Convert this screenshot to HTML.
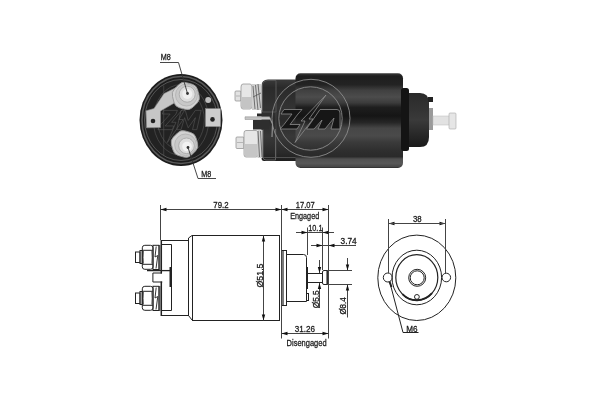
<!DOCTYPE html>
<html><head><meta charset="utf-8">
<style>
html,body{margin:0;padding:0;background:#fff;width:600px;height:400px;overflow:hidden}
svg{display:block;will-change:transform}
text{font-family:"Liberation Sans",sans-serif;fill:#1a1a1a;stroke:#1a1a1a;stroke-width:0.3}
</style></head><body>
<svg width="600" height="400" viewBox="0 0 600 400">
<defs>
  <linearGradient id="bodyG" x1="0" y1="0" x2="0" y2="1">
    <stop offset="0" stop-color="#3a3a3a"/>
    <stop offset="0.03" stop-color="#1e1e1e"/>
    <stop offset="0.12" stop-color="#232323"/>
    <stop offset="0.18" stop-color="#404040"/>
    <stop offset="0.25" stop-color="#4c4c4c"/>
    <stop offset="0.31" stop-color="#3c3c3c"/>
    <stop offset="0.36" stop-color="#1e1e1e"/>
    <stop offset="0.45" stop-color="#151515"/>
    <stop offset="0.52" stop-color="#262626"/>
    <stop offset="0.58" stop-color="#464646"/>
    <stop offset="0.66" stop-color="#4a4a4a"/>
    <stop offset="0.73" stop-color="#3a3a3a"/>
    <stop offset="0.82" stop-color="#2e2e2e"/>
    <stop offset="0.88" stop-color="#2a2a2a"/>
    <stop offset="0.905" stop-color="#505050"/>
    <stop offset="0.95" stop-color="#585858"/>
    <stop offset="0.985" stop-color="#484848"/>
    <stop offset="1" stop-color="#2a2a2a"/>
  </linearGradient>
  <linearGradient id="frontG" x1="0" y1="0" x2="0" y2="1">
    <stop offset="0" stop-color="#2a2a2a"/>
    <stop offset="0.3" stop-color="#333"/>
    <stop offset="0.5" stop-color="#3a3a3a"/>
    <stop offset="0.8" stop-color="#262626"/>
    <stop offset="1" stop-color="#1a1a1a"/>
  </linearGradient>
  <linearGradient id="capG" x1="0" y1="0" x2="0" y2="1">
    <stop offset="0" stop-color="#3a3a3a"/>
    <stop offset="0.1" stop-color="#2a2a2a"/>
    <stop offset="0.35" stop-color="#333"/>
    <stop offset="0.5" stop-color="#2a2a2a"/>
    <stop offset="0.7" stop-color="#383838"/>
    <stop offset="0.9" stop-color="#2a2a2a"/>
    <stop offset="1" stop-color="#1e1e1e"/>
  </linearGradient>
  <radialGradient id="endG" cx="0.5" cy="0.5" r="0.5">
    <stop offset="0" stop-color="#3a3a3a"/>
    <stop offset="0.8" stop-color="#2a2a2a"/>
    <stop offset="0.92" stop-color="#555"/>
    <stop offset="1" stop-color="#1a1a1a"/>
  </radialGradient>
</defs>

<!-- ============ END VIEW PHOTO ============ -->
<g id="endview">
  <ellipse cx="181" cy="120" rx="41.5" ry="46" fill="#1c1c1c"/>
  <ellipse cx="181" cy="120" rx="39" ry="43.5" fill="none" stroke="#5a5a5a" stroke-width="1.6"/>
  <ellipse cx="181" cy="120" rx="36.5" ry="40.5" fill="#222" stroke="#7a7a7a" stroke-width="0.6"/>
  <!-- watermark lines -->
  <g fill="none" stroke="#5a5a5a" stroke-width="0.7" transform="translate(181,120) scale(0.72,0.92) translate(-312,-119.5)">
    <circle cx="312" cy="119.5" r="38.5"/>
    <circle cx="312" cy="119.5" r="32.4"/>
    <path d="M288,109 L307,109 L305,113 L290,126 L302,126 L300,130 L280,130 L282,126 L297,113 L286,113 Z"/>
    <path d="M306,130 L312,109 L318,109 L322,120 L332,109 L340,109 L334,130 L328,130 L332,117 L322,128 L317,117 L312,130 Z"/>
    <path d="M328,95 L309,119 L315,119 L293,144 L305,122 L299,122 Z"/>
    <line x1="288" y1="82" x2="288" y2="158"/>
  </g>
  <!-- left bracket -->
  <path d="M176,87.6 L164,93.6 L154,108.5 L146,110.8 L146.5,127.8 L160.5,127.5 L160.5,111 L174,103.2 Z" fill="#c6c6c6" stroke="#8a8a8a" stroke-width="0.6"/>
  <circle cx="153" cy="121" r="2.3" fill="#222"/>
  <!-- right tab -->
  <rect x="205.5" y="108.6" width="15" height="18" fill="#cdcdcd" stroke="#8a8a8a" stroke-width="0.5"/>
  <circle cx="212.5" cy="119.4" r="2.3" fill="#222"/>
  <circle cx="208.2" cy="100" r="3" fill="#bdbdbd"/>
  <!-- upper terminal -->
  <path d="M199.1,95.5 Q200.3,99.9 197.1,103.1 L192.9,107.3 Q189.7,110.5 185.3,109.3 L179.5,107.8 Q175.2,106.6 174.0,102.3 L172.5,96.5 Q171.3,92.1 174.5,88.9 L178.7,84.7 Q181.9,81.5 186.3,82.7 L192.1,84.2 Q196.4,85.4 197.6,89.7 Z" fill="#d2d2d2" stroke="#9a9a9a" stroke-width="0.9"/>
  <circle cx="186.5" cy="95" r="11" fill="#c8c8c8" stroke="#a8a8a8" stroke-width="0.6"/>
  <circle cx="187.2" cy="94.2" r="8" fill="#dedede" stroke="#9e9e9e" stroke-width="0.7"/>
  <circle cx="187.3" cy="94" r="5" fill="#efefef"/>
  <circle cx="187.5" cy="93.5" r="1.4" fill="#333"/>
  <!-- lower terminal -->
  <path d="M197.6,143.5 Q198.7,147.8 195.6,150.9 L191.4,155.1 Q188.3,158.2 184.0,157.1 L178.4,155.5 Q174.1,154.4 173.0,150.1 L171.4,144.5 Q170.3,140.2 173.4,137.1 L177.6,132.9 Q180.7,129.8 185.0,130.9 L190.6,132.5 Q194.9,133.6 196.0,137.9 Z" fill="#d2d2d2" stroke="#9a9a9a" stroke-width="0.9"/>
  <circle cx="185.5" cy="144.8" r="10.8" fill="#c8c8c8" stroke="#a8a8a8" stroke-width="0.6"/>
  <circle cx="186.5" cy="145.8" r="7.8" fill="#dedede" stroke="#9e9e9e" stroke-width="0.7"/>
  <circle cx="187" cy="146.5" r="4.8" fill="#f2f2f2"/>
  <circle cx="188" cy="147.5" r="1.4" fill="#333"/>
  <!-- leaders -->
  <polyline points="160,62.5 178.5,62.5 187.5,93.5" fill="none" stroke="#333" stroke-width="0.9"/>
  <polyline points="188,147.5 198,178.5 216,178.5" fill="none" stroke="#333" stroke-width="0.9"/>
  <text x="160.8" y="60" font-size="9.2" textLength="10" lengthAdjust="spacingAndGlyphs">M8</text>
  <text x="201.2" y="177" font-size="9.2" textLength="10" lengthAdjust="spacingAndGlyphs">M8</text>
</g>

<!-- ============ SIDE VIEW PHOTO ============ -->
<g id="sideview">
  <!-- cap -->
  <path d="M268,79.5 H298 V161 H264 Q261.5,161 261.5,158 V86 Q261.5,79.5 268,79.5 Z" fill="url(#capG)"/>
  <path d="M262.5,84 Q263,81 267,80.5 H276 V112 H262.5 Z" fill="none" stroke="#5a5a5a" stroke-width="0.8"/>
  <line x1="276" y1="82" x2="276" y2="158" stroke="#4a4a4a" stroke-width="0.8"/>
  <path d="M263,129 V157 Q263,160 266,160 H275.5 V129" fill="none" stroke="#666" stroke-width="0.9"/>
  <line x1="263" y1="157.5" x2="296" y2="157.5" stroke="#5a5a5a" stroke-width="0.8"/>
  <!-- upper bolt -->
  <rect x="235" y="91" width="6" height="10" rx="1" fill="#e2e2e2" stroke="#8a8a8a" stroke-width="0.7"/>
  <line x1="236" y1="96" x2="240" y2="96" stroke="#999" stroke-width="0.6"/>
  <path d="M243,84 H250 Q252,84 252,87 V106 Q252,109 250,109 H243 Q241,109 241,106 V87 Q241,84 243,84 Z" fill="#e6e6e6" stroke="#8a8a8a" stroke-width="0.7"/>
  <path d="M241.5,97 H251.5 V106 Q251.5,108.5 249.5,108.5 H243.5 Q241.5,108.5 241.5,106 Z" fill="#c4c4c4"/>
  <rect x="252" y="84" width="9.5" height="26" fill="#d0d0d0"/>
  <path d="M253,86 L255,109 M255.5,85 L258,110 M258,84 L260.5,108 M253,97 L261,93" stroke="#555" stroke-width="0.8" fill="none"/>
  <!-- lower bolt -->
  <rect x="236" y="137" width="8" height="11.5" rx="1" fill="#e2e2e2" stroke="#8a8a8a" stroke-width="0.7"/>
  <line x1="237" y1="142.5" x2="243" y2="142.5" stroke="#999" stroke-width="0.6"/>
  <path d="M246,130.5 H256 Q258,130.5 258,133 V154.5 Q258,157 256,157 H246 Q244,157 244,154.5 V133 Q244,130.5 246,130.5 Z" fill="#e6e6e6" stroke="#8a8a8a" stroke-width="0.7"/>
  <path d="M244.5,144 H257.5 V154.5 Q257.5,156.5 255.5,156.5 H246.5 Q244.5,156.5 244.5,154.5 Z" fill="#c6c6c6"/>
  <rect x="257.5" y="130" width="5" height="28" fill="#cfcfcf"/>
  <path d="M258,131 L259.5,157 M260.5,131 L262,157" stroke="#555" stroke-width="0.8" fill="none"/>
  <!-- bracket between -->
  <rect x="257" y="113.5" width="5" height="3" fill="#2a2a2a"/>
  <rect x="253" y="120" width="16" height="9.5" fill="#2e2e2e"/>
  <path d="M245,116.8 H269.5 L271,119.5 H245 Z" fill="#c4c4c4" stroke="#8a8a8a" stroke-width="0.5"/>
  <path d="M270.5,119.5 L272.5,124 L272,137" fill="none" stroke="#9a9a9a" stroke-width="1.1"/>
  <!-- main body -->
  <rect x="295.5" y="73.3" width="107.5" height="94.7" rx="5" fill="url(#bodyG)"/>
  <!-- front flange and cap -->
  <rect x="401" y="88" width="8" height="63" rx="2.5" fill="#141414"/>
  <path d="M409,93 L420,93 Q429,93 429,103 L429,137 Q429,147 420,147 L409,147 Z" fill="url(#frontG)"/>
  <rect x="428" y="97" width="5" height="5" fill="#222"/>
  <rect x="429" y="108" width="4" height="22" fill="#9a9a9a"/>
  <rect x="433" y="116" width="17" height="9" fill="#e2e2e2" stroke="#bbb" stroke-width="0.5"/>
  <rect x="449" y="113" width="7" height="16" rx="1" fill="#e6e6e6" stroke="#aaa" stroke-width="0.6"/>
  <!-- logo watermark -->
  <g fill="none" stroke="#8c8c8c" stroke-width="0.9">
    <circle cx="311" cy="118.3" r="39"/>
    <circle cx="310.5" cy="118.5" r="31.7"/>
    <path d="M284,109.5 H302 L298,114 L290,124.5 H300 L297,129 H280 L284,124.5 L292,114 H281 Z" fill="#161616" stroke-width="0.8"/>
    <path d="M306.5,129 L320,109.5 H337 Q340,109.5 340,113 V129 H331 L334,118 L325,129 H318 L322,120 L314,129 Z" fill="#161616" stroke-width="0.8"/>
    <path d="M326,95 L309,119 L313,119 L295,142.5 L305,121 L301,121 Z" stroke-width="0.8"/>
  </g>
</g>
</g>
</g>

<!-- ============ TECHNICAL DRAWING SIDE ============ -->
<g id="drawing" fill="none" stroke="#222" stroke-width="1">
  <!-- main cylinder -->
  <rect x="192.5" y="235.5" width="87" height="85"/>
  <!-- cap outline -->
  <path d="M161.5,240.5 H188.5 M188.5,316 V238 L192,235.5 M161.5,315.5 H188.5 L192,320"/>
  <!-- inner cap outline -->
  <path d="M161.5,244.5 H171.5 V310.5 H161.5"/>
  <line x1="170.5" y1="267" x2="170.5" y2="287" stroke-width="2"/>
  <!-- upper terminal -->
  <g id="term">
  <rect x="135.5" y="252" width="4.5" height="10.5"/>
  <rect x="140" y="250.5" width="2.2" height="13"/>
  <rect x="142.3" y="245.3" width="10.7" height="24" rx="2.5"/>
  <path d="M142.5,250.3 H152.8 M142.5,264.3 H152.8"/>
  <path d="M143.5,251 Q142.8,257.3 143.5,263.6 M151.8,251 Q152.5,257.3 151.8,263.6" stroke-width="0.7"/>
  <rect x="153" y="245.3" width="5.8" height="24.2"/>
  <path d="M156.2,246.5 L155,257 L157.8,255.5 L156,268.5" stroke-width="0.9"/>
  <line x1="159.8" y1="245" x2="159.8" y2="270" stroke-width="1"/>
  </g>
  <g transform="translate(0,41)">
  <rect x="135.5" y="252" width="4.5" height="10.5"/>
  <rect x="140" y="250.5" width="2.2" height="13"/>
  <rect x="142.3" y="245.3" width="10.7" height="24" rx="2.5"/>
  <path d="M142.5,250.3 H152.8 M142.5,264.3 H152.8"/>
  <path d="M143.5,251 Q142.8,257.3 143.5,263.6 M151.8,251 Q152.5,257.3 151.8,263.6" stroke-width="0.7"/>
  <rect x="153" y="245.3" width="5.8" height="24.2"/>
  <path d="M156.2,246.5 L155,257 L157.8,255.5 L156,268.5" stroke-width="0.9"/>
  <line x1="159.8" y1="245" x2="159.8" y2="270" stroke-width="1"/>
  </g>
  <!-- cap left edge (split) -->
  <line x1="161.3" y1="240" x2="161.3" y2="273.5" stroke-width="1.5"/>
  <line x1="161.3" y1="281.5" x2="161.3" y2="316" stroke-width="1.5"/>
  <!-- middle bracket -->
  <line x1="147" y1="270.6" x2="170" y2="270.6" stroke-width="1.3"/>
  <path d="M152.9,273 H162 M152.9,273 V282 H162.3"/>
  <!-- flange & front cap -->
  <rect x="281.5" y="250.5" width="5" height="55"/>
  <line x1="283" y1="251" x2="283" y2="305" stroke-width="1.2"/>
  <path d="M286.5,254.5 H303.5 Q306.5,254.5 306.5,257.5 V301.5 H286.5"/>
  <rect x="306.5" y="293.5" width="2" height="7"/>
  <line x1="307" y1="267" x2="307" y2="289" stroke-width="2"/>
  <!-- shaft -->
  <path d="M307.5,273.5 H322.5 M307.5,282.5 H322.5"/>
  <rect x="322.5" y="270.5" width="6" height="14" rx="1.5"/>
  <line x1="327.2" y1="271" x2="327.2" y2="284" stroke-width="1.5"/>
  <!-- extension lines -->
  <g stroke="#444">
  <line x1="160.5" y1="205" x2="160.5" y2="240"/>
  <line x1="281.5" y1="205" x2="281.5" y2="338.5"/>
  <line x1="328.5" y1="205" x2="328.5" y2="338.5"/>
  <line x1="307.5" y1="227.5" x2="307.5" y2="255"/>
  <line x1="322.5" y1="227.5" x2="322.5" y2="270"/>
  <!-- dim lines -->
  <line x1="160.5" y1="209.5" x2="328.5" y2="209.5"/>
  <line x1="296" y1="232.5" x2="334" y2="232.5"/>
  <line x1="311" y1="245.5" x2="356" y2="245.5"/>
  <line x1="281.5" y1="333.5" x2="328.5" y2="333.5"/>
  <line x1="263.5" y1="235.5" x2="263.5" y2="320.5"/>
  <!-- d5.5 -->
  <line x1="319.5" y1="260" x2="319.5" y2="273"/>
  <line x1="319.5" y1="283" x2="319.5" y2="308"/>
  <!-- d8.4 -->
  <line x1="328.5" y1="270.5" x2="352" y2="270.5"/>
  <line x1="328.5" y1="284.5" x2="352" y2="284.5"/>
  <line x1="347.5" y1="258" x2="347.5" y2="270.5"/>
  <line x1="347.5" y1="284.5" x2="347.5" y2="317.5"/>
  </g>
</g>
<g id="arrows" fill="#111">
  <!-- 79.2 -->
  <path d="M160.5,209.5 l6,-1.7 v3.4 z"/>
  <path d="M281.5,209.5 l-6,-1.7 v3.4 z"/>
  <!-- 17.07 -->
  <path d="M281.5,209.5 l6,-1.7 v3.4 z"/>
  <path d="M328.5,209.5 l-6,-1.7 v3.4 z"/>
  <!-- 10.1 -->
  <path d="M307.5,232.5 l-6,-1.7 v3.4 z"/>
  <path d="M322.5,232.5 l6,-1.7 v3.4 z"/>
  <!-- 3.74 -->
  <path d="M322.5,245.5 l-6,-1.7 v3.4 z"/>
  <path d="M328.5,245.5 l6,-1.7 v3.4 z"/>
  <!-- 31.26 -->
  <path d="M281.5,333.5 l6,-1.7 v3.4 z"/>
  <path d="M328.5,333.5 l-6,-1.7 v3.4 z"/>
  <!-- 51.5 -->
  <path d="M263.5,235.5 l-1.7,6 h3.4 z"/>
  <path d="M263.5,320.5 l-1.7,-6 h3.4 z"/>
  <!-- 5.5 -->
  <path d="M319.5,273 l-1.7,-6 h3.4 z"/>
  <path d="M319.5,283 l-1.7,6 h3.4 z"/>
  <!-- 8.4 -->
  <path d="M347.5,270.5 l-1.7,-6 h3.4 z"/>
  <path d="M347.5,284.5 l-1.7,6 h3.4 z"/>
  <!-- 38 -->
  <path d="M388.5,223.5 l6,-1.7 v3.4 z"/>
  <path d="M445.5,223.5 l-6,-1.7 v3.4 z"/>
</g>
<g id="labels" font-size="9.8">
  <text x="213.3" y="208" textLength="15.2" lengthAdjust="spacingAndGlyphs">79.2</text>
  <text x="295.8" y="207.7" textLength="19" lengthAdjust="spacingAndGlyphs">17.07</text>
  <text x="290.2" y="218.6" textLength="29" lengthAdjust="spacingAndGlyphs">Engaged</text>
  <text x="308.2" y="231.2" textLength="14.3" lengthAdjust="spacingAndGlyphs">10.1</text>
  <text x="340.5" y="244.4" textLength="16.2" lengthAdjust="spacingAndGlyphs">3.74</text>
  <text x="294.7" y="332" textLength="20.3" lengthAdjust="spacingAndGlyphs">31.26</text>
  <text x="286.6" y="345.5" textLength="40" lengthAdjust="spacingAndGlyphs">Disengaged</text>
  <text x="412.9" y="222.2" textLength="8.7" lengthAdjust="spacingAndGlyphs">38</text>
  <text x="406.2" y="331.7" textLength="11.3" lengthAdjust="spacingAndGlyphs">M6</text>
  <text transform="translate(262.8,287.5) rotate(-90)" textLength="24" lengthAdjust="spacingAndGlyphs">Ø51.5</text>
  <text transform="translate(318.9,308.3) rotate(-90)" textLength="18" lengthAdjust="spacingAndGlyphs">Ø5.5</text>
  <text transform="translate(346,314.6) rotate(-90)" font-size="9" textLength="17.3" lengthAdjust="spacingAndGlyphs">Ø8.4</text>
</g>

<!-- ============ FRONT VIEW DRAWING ============ -->
<g id="front" fill="none" stroke="#222" stroke-width="1">
  <ellipse cx="416.8" cy="277.8" rx="39" ry="42.7"/>
  <ellipse cx="416.8" cy="277.5" rx="24.8" ry="27.3"/>
  <ellipse cx="416.8" cy="277.5" rx="21" ry="22.8" stroke-width="1.2"/>
  <circle cx="417.2" cy="277.8" r="8.5"/>
  <circle cx="417.2" cy="277.8" r="7"/>
  <circle cx="387.8" cy="277.5" r="4.5"/>
  <circle cx="446.3" cy="277.5" r="4.3"/>
  <circle cx="416.9" cy="296.9" r="2.4"/>
  <path d="M402.4,294.1 A21,22.8 0 0 0 432,293.2" stroke-width="1.9"/>
  <path d="M389.5,281.5 L391.5,287" stroke-width="2"/>
  <g stroke="#444">
  <line x1="388.5" y1="219" x2="388.5" y2="273"/>
  <line x1="445.5" y1="219" x2="445.5" y2="273"/>
  <line x1="388.5" y1="223.5" x2="445.5" y2="223.5"/>
  </g>
  <polyline points="390,283 403,332.5 418.5,332.5"/>
</g>
</svg>
</body></html>
